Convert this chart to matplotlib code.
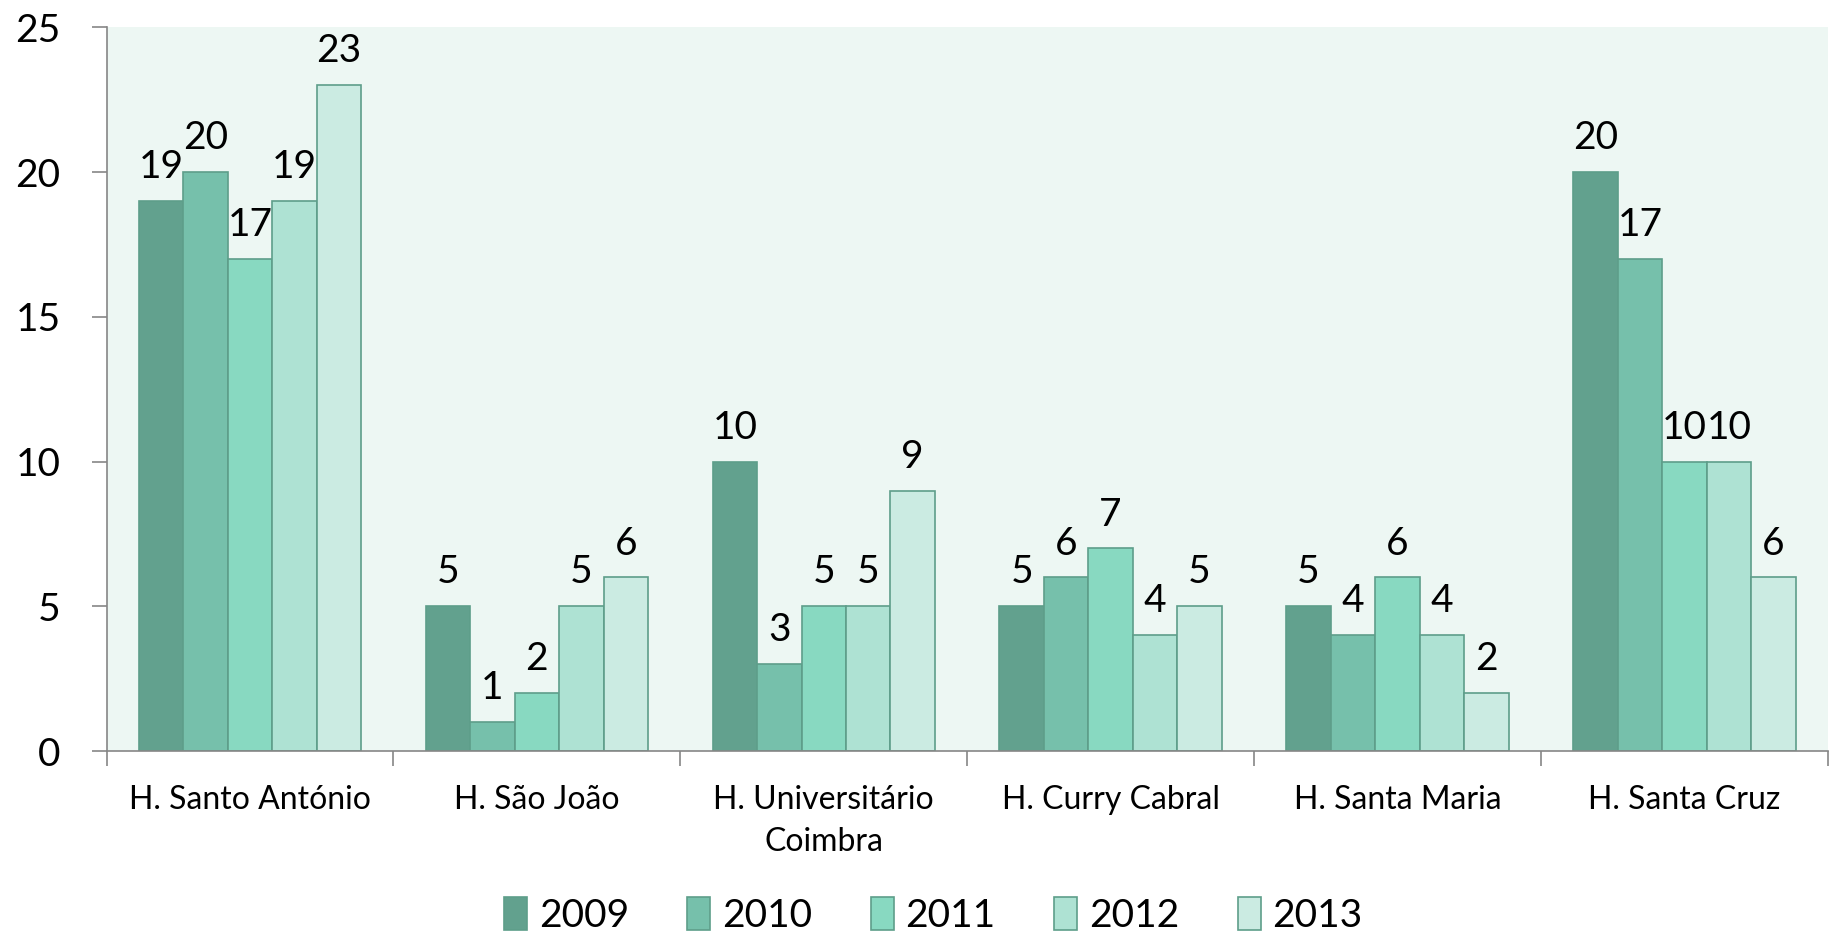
import matplotlib.pyplot as plt
import numpy as np

hospitals = ["H. Santo António", "H. São João", "H. Universitário\nCoimbra",
             "H. Curry Cabral", "H. Santa Maria", "H. Santa Cruz"]
years = ["2009", "2010", "2011", "2012", "2013"]
counts = {
    "2009": [19, 5, 10, 5, 5, 20],
    "2010": [20, 1, 3, 6, 4, 17],
    "2011": [17, 2, 5, 7, 6, 10],
    "2012": [19, 5, 5, 4, 4, 10],
    "2013": [23, 6, 9, 5, 2, 6],
}
colors = ["#62A18E", "#76C0AB", "#88D9C1", "#AEE2D3", "#CBEBE2"]

plt.rcParams["font.family"] = ["Lato", "DejaVu Sans"]

fig = plt.figure(figsize=(18.37, 9.39), dpi=100)
ax = fig.add_axes([0.058, 0.2, 0.937, 0.771])
ax.set_facecolor("#EDF7F3")

x = np.arange(len(hospitals))
w = 0.155
for i, yr in enumerate(years):
    pos = x + (i - 2) * w
    bars = ax.bar(pos, counts[yr], width=w, color=colors[i],
                  edgecolor="#5E9E8A", linewidth=1.2, label=yr)
    for b, v in zip(bars, counts[yr]):
        ax.text(b.get_x() + b.get_width() / 2, v + 0.55, str(v),
                ha="center", va="bottom", fontsize=28)

ax.set_xlim(-0.5, len(hospitals) - 0.5)
ax.set_ylim(0, 25)
ax.set_yticks([0, 5, 10, 15, 20, 25])
ax.tick_params(axis="y", labelsize=28, length=11, width=1.2, color="#868686", pad=22)

ax.set_xticks(np.arange(len(hospitals) + 1) - 0.5)
ax.set_xticklabels([])
ax.tick_params(axis="x", which="major", length=11, width=1.2, color="#868686", direction="out")
ax.set_xticks(x, minor=True)
ax.set_xticklabels(hospitals, minor=True, fontsize=23, linespacing=1.5)
ax.tick_params(axis="x", which="minor", length=0, pad=24)

for s in ["top", "right"]:
    ax.spines[s].set_visible(False)
for s in ["left", "bottom"]:
    ax.spines[s].set_color("#868686")
    ax.spines[s].set_linewidth(1.2)

fig.legend(loc="center", bbox_to_anchor=(0.508, 0.025), ncol=5, frameon=False,
           fontsize=28, handlelength=0.6, handleheight=0.9, handletextpad=0.3,
           columnspacing=1.5)

fig.savefig("out.png", dpi=100)
